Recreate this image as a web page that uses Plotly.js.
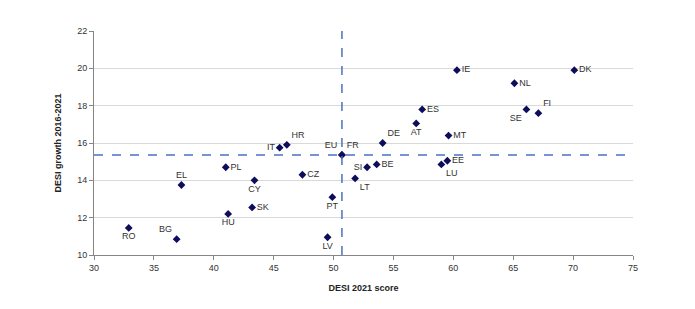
<!DOCTYPE html>
<html>
<head>
<meta charset="utf-8">
<script src="https://cdn.plot.ly/plotly-3.0.1.min.js"></script>
<style>html,body{margin:0;padding:0;background:#fff;}#chart{width:695px;height:309px;}</style>
</head>
<body>
<div id="chart"></div>
<script>
const countries = ["DK","IE","NL","SE","FI","ES","AT","MT","DE","EE","LU","BE","SI","LT","EU","FR","HR","IT","PL","CZ","EL","CY","PT","SK","HU","RO","BG","LV"];
const desiScore = [70.1,60.3,65.1,66.1,67.1,57.4,56.9,59.6,54.1,59.5,59.0,53.6,52.8,51.8,50.7,50.7,46.1,45.5,41.0,47.4,37.3,43.4,49.9,43.2,41.2,32.9,36.9,49.5];
const desiGrowth = [19.9,19.9,19.2,17.8,17.6,17.8,17.05,16.4,16.0,15.05,14.85,14.85,14.7,14.1,15.36,15.36,15.9,15.75,14.7,14.3,13.75,14.0,13.1,12.55,12.2,11.45,10.85,10.95];
const xTicks = [30,35,40,45,50,55,60,65,70,75];
const yTicks = [10,12,14,16,18,20,22];

const labelPos = ["middle right","middle right","middle right","bottom left","top right","middle right","bottom center","middle right","top right","middle right","bottom right","middle right","middle left","bottom right","top left","top right","top right","middle left","middle right","middle right","top center","bottom center","bottom center","middle right","bottom center","bottom center","top left","bottom center"];

const euIdx = countries.indexOf("EU");
const euX = desiScore[euIdx], euY = desiGrowth[euIdx];

const trace = {
  x: desiScore, y: desiGrowth, text: countries,
  type: "scatter", mode: "markers+text",
  textposition: labelPos,
  textfont: {family: "Liberation Sans, Arial, sans-serif", size: 9, color: "#333"},
  marker: {symbol: "diamond", size: 6, color: "#0d0d5c"},
  hoverinfo: "x+y+text", showlegend: false
};

const layout = {
  width: 695, height: 309,
  margin: {l: 94, r: 62, t: 31, b: 54},
  paper_bgcolor: "#fff", plot_bgcolor: "#fff",
  font: {family: "Liberation Sans, Arial, sans-serif", size: 9, color: "#333"},
  xaxis: {
    range: [30, 75], tickvals: xTicks, ticktext: xTicks.map(String),
    showgrid: false, zeroline: false, showline: true, linecolor: "#868686", linewidth: 1,
    ticks: "outside", ticklen: 4, tickcolor: "#868686",
    title: {text: "<b>DESI 2021 score</b>", font: {size: 9, color: "#222"}, standoff: 12}
  },
  yaxis: {
    range: [10, 22], tickvals: yTicks, ticktext: yTicks.map(String),
    showgrid: true, gridcolor: "#d9d9d9", zeroline: false, showline: true, linecolor: "#868686", linewidth: 1,
    ticks: "outside", ticklen: 4, tickcolor: "#868686",
    title: {text: "<b>DESI growth 2016-2021</b>", font: {size: 9, color: "#222"}, standoff: 14}
  },
  shapes: [
    {type: "line", xref: "x", yref: "y", x0: euX, x1: euX, y0: 10, y1: 22, line: {color: "#4a72c0", width: 1.5, dash: "dash"}},
    {type: "line", xref: "x", yref: "y", x0: 30, x1: 75, y0: euY, y1: euY, line: {color: "#4a72c0", width: 1.5, dash: "dash"}}
  ]
};

Plotly.newPlot("chart", [trace], layout, {displayModeBar: false, staticPlot: true});
</script>
</body>
</html>
